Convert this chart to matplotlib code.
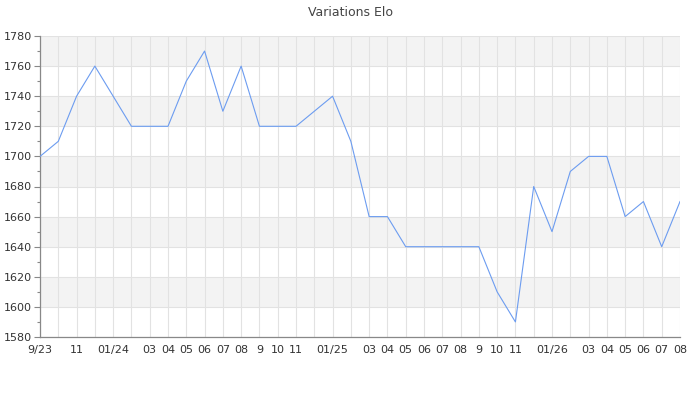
import matplotlib
matplotlib.use('Agg')
import matplotlib.pyplot as plt
from matplotlib.ticker import MultipleLocator

# monthly Elo, 9/23 .. 08/26
elo = [1700, 1710, 1740, 1760, 1740, 1720, 1720, 1720, 1750, 1770, 1730, 1760,
       1720, 1720, 1720, 1730, 1740, 1710, 1660, 1660, 1640, 1640, 1640, 1640,
       1640, 1610, 1590, 1680, 1650, 1690, 1700, 1700, 1660, 1670, 1640, 1670]
month_labels = ['9/23', '', '11', '', '01/24', '', '03', '04', '05', '06', '07', '08',
                '9', '10', '11', '', '01/25', '', '03', '04', '05', '06', '07', '08',
                '9', '10', '11', '', '01/26', '', '03', '04', '05', '06', '07', '08']
title = 'Variations Elo'

plt.rcParams['font.family'] = 'DejaVu Sans'
fig = plt.figure(figsize=(7, 4), dpi=100)
ax = fig.add_axes([40/700, 1-337/400, 640/700, 301/400])

x = list(range(len(elo)))
ax.set_xlim(0, len(elo) - 1)
ax.set_ylim(1580, 1780)

# alternating bands
for lo in range(1600, 1780, 40):
    ax.axhspan(lo, lo + 20, color='#f3f3f3', zorder=0, lw=0)

ax.plot(x, elo, color='#6c9cf0', lw=0.8, zorder=3)

ax.set_xticks(x)
ax.set_xticklabels(month_labels)
ax.yaxis.set_major_locator(MultipleLocator(20))
ax.yaxis.set_minor_locator(MultipleLocator(10))
ax.grid(True, which='major', color='#e2e2e2', lw=0.8, zorder=1)
ax.set_axisbelow(True)

for s in ['top', 'right']:
    ax.spines[s].set_visible(False)
for s in ['left', 'bottom']:
    ax.spines[s].set_color('#888888')
    ax.spines[s].set_linewidth(0.9)

ax.tick_params(axis='x', length=0, pad=6, labelsize=8, labelcolor='#333333')
ax.tick_params(axis='y', which='major', length=4, width=0.8, color='#888888', pad=2,
               labelsize=8, labelcolor='#333333')
ax.tick_params(axis='y', which='minor', length=2.5, width=0.8, color='#888888')

fig.text(0.5, 1-12/400, title, ha='center', va='center', fontsize=9, color='#444444')

fig.savefig('out.png', dpi=100)
